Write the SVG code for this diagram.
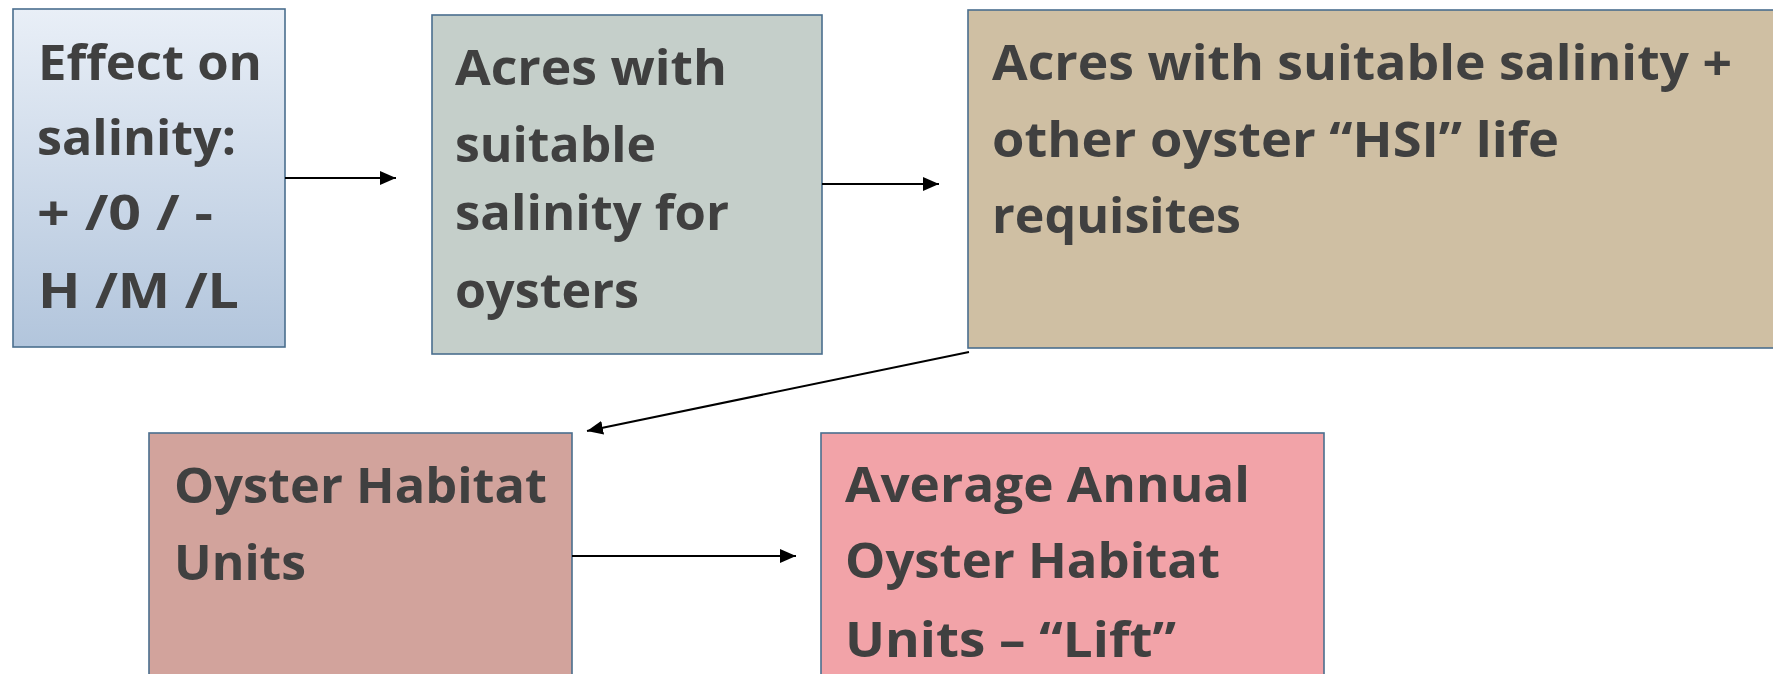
<svg xmlns="http://www.w3.org/2000/svg" width="1773" height="674" viewBox="0 0 1773 674">
<style>
.box{stroke:#4A6E8E;stroke-width:1.6}
.t{font-family:"Open Sans","Liberation Sans",sans-serif;font-weight:bold;font-size:49px;fill:#404040}
.c{stroke:#000;stroke-width:2;fill:none;marker-end:url(#ah)}
</style>
<defs>
<linearGradient id="g1" x1="0" y1="0" x2="0" y2="1">
<stop offset="0" stop-color="#E9EFF7"/>
<stop offset="1" stop-color="#B2C5DC"/>
</linearGradient>
<marker id="ah" viewBox="0 0 16 14" refX="16" refY="7" markerWidth="16" markerHeight="14" markerUnits="userSpaceOnUse" orient="auto">
<path d="M0,0 L16,7 L0,14 Z" fill="#000"/>
</marker>
</defs>
<rect width="1773" height="674" fill="#fff"/>
<g id="n1">
<rect class="box" x="13" y="9" width="272" height="338" fill="url(#g1)"/>
<text class="t" x="38" y="80" textLength="224" lengthAdjust="spacingAndGlyphs">Effect on</text>
<text class="t" x="37" y="155" textLength="199" lengthAdjust="spacingAndGlyphs">salinity:</text>
<text class="t" x="37" y="230" textLength="176" lengthAdjust="spacingAndGlyphs">+ /0 / -</text>
<text class="t" x="38" y="308" textLength="201" lengthAdjust="spacingAndGlyphs">H /M /L</text>
</g>
<g id="n2">
<rect class="box" x="432" y="15" width="390" height="339" fill="#C5CFCA"/>
<text class="t" x="455" y="85" textLength="272" lengthAdjust="spacingAndGlyphs">Acres with</text>
<text class="t" x="455" y="162" textLength="201" lengthAdjust="spacingAndGlyphs">suitable</text>
<text class="t" x="455" y="230" textLength="274" lengthAdjust="spacingAndGlyphs">salinity for</text>
<text class="t" x="455" y="308" textLength="184" lengthAdjust="spacingAndGlyphs">oysters</text>
</g>
<g id="n3">
<rect class="box" x="968" y="10" width="820" height="338" fill="#CFBFA3"/>
<text class="t" x="992" y="80" textLength="740" lengthAdjust="spacingAndGlyphs">Acres with suitable salinity +</text>
<text class="t" x="992" y="157" textLength="567" lengthAdjust="spacingAndGlyphs">other oyster “HSI” life</text>
<text class="t" x="992" y="233" textLength="249" lengthAdjust="spacingAndGlyphs">requisites</text>
</g>
<g id="n4">
<rect class="box" x="149" y="433" width="423" height="260" fill="#D2A39C"/>
<text class="t" x="174" y="503" textLength="373" lengthAdjust="spacingAndGlyphs">Oyster Habitat</text>
<text class="t" x="174" y="580" textLength="132" lengthAdjust="spacingAndGlyphs">Units</text>
</g>
<g id="n5">
<rect class="box" x="821" y="433" width="503" height="260" fill="#F2A3A8"/>
<text class="t" x="845" y="502" textLength="405" lengthAdjust="spacingAndGlyphs">Average Annual</text>
<text class="t" x="845" y="578" textLength="375" lengthAdjust="spacingAndGlyphs">Oyster Habitat</text>
<text class="t" x="845" y="657" textLength="331" lengthAdjust="spacingAndGlyphs">Units – “Lift”</text>
</g>
<g id="connectors">
<line class="c" x1="285" y1="178" x2="396" y2="178"/>
<line class="c" x1="822" y1="184" x2="939" y2="184"/>
<line class="c" x1="969" y1="352" x2="587" y2="431"/>
<line class="c" x1="572" y1="556" x2="796" y2="556"/>
</g>
</svg>
